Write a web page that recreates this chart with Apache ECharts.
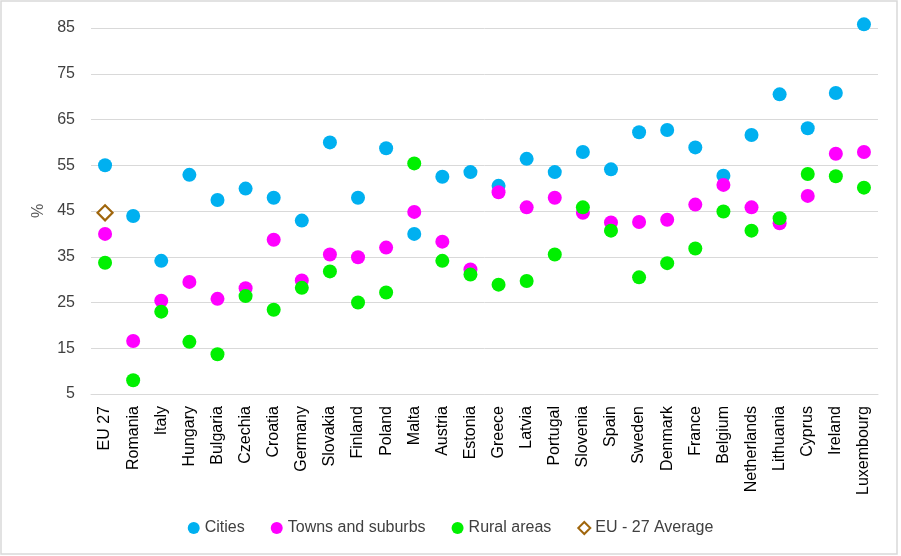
<!DOCTYPE html>
<html>
<head>
<meta charset="utf-8">
<script src="https://cdn.jsdelivr.net/npm/echarts@6/dist/echarts.min.js"></script>
<style>
html,body{margin:0;padding:0;background:#fff;}
#c{width:901px;height:556px;}
</style>
</head>
<body>
<div id="c"></div>
<script>
var categories = ["EU 27","Romania","Italy","Hungary","Bulgaria","Czechia","Croatia","Germany","Slovakia","Finland","Poland","Malta","Austria","Estonia","Greece","Latvia","Portugal","Slovenia","Spain","Sweden","Denmark","France","Belgium","Netherlands","Lithuania","Cyprus","Ireland","Luxembourg"];
var cities = [55.0,43.9,34.1,52.9,47.4,49.9,47.9,42.9,60.0,47.9,58.7,40.0,52.5,53.5,50.5,56.4,53.5,57.9,54.1,62.2,62.7,58.9,52.7,61.6,70.5,63.1,70.8,85.8];
var towns = [40.0,16.6,25.4,29.5,25.8,28.1,38.7,29.8,35.5,34.9,37.0,44.8,38.3,32.2,49.1,45.8,47.9,44.6,42.5,42.6,43.1,46.4,50.7,45.8,42.3,48.3,57.5,57.9];
var rural = [33.7,8.0,23.0,16.4,13.7,26.4,23.4,28.2,31.8,25.0,27.2,55.4,34.1,31.1,28.9,29.7,35.5,45.8,40.7,30.5,33.6,36.8,44.9,40.7,43.4,53.1,52.6,50.1];
var euAverage = [44.6,null,null,null,null,null,null,null,null,null,null,null,null,null,null,null,null,null,null,null,null,null,null,null,null,null,null,null];

var chart = echarts.init(document.getElementById('c'), null, {renderer:'canvas'});
var font = "'Liberation Sans', Arial, sans-serif";
chart.setOption({
  animation:false,
  backgroundColor:'#ffffff',
  textStyle:{fontFamily:font},
  graphic:[{type:'rect',shape:{x:1,y:1,width:896,height:553},style:{fill:'none',stroke:'#D9D9D9',lineWidth:1.5},silent:true}],
  grid:{left:91,right:23,top:28,bottom:162,containLabel:false},
  legend:{
    bottom:15,left:'center',itemGap:26,itemWidth:12,itemHeight:12,
    textStyle:{fontSize:16,color:'#404040',fontFamily:font},
    data:[
      {name:'Cities',icon:'circle'},
      {name:'Towns and suburbs',icon:'circle'},
      {name:'Rural areas',icon:'circle'},
      {name:'EU - 27 Average',icon:'diamond',itemStyle:{color:'#ffffff',borderColor:'#A0660C',borderWidth:2}}
    ]
  },
  xAxis:{
    type:'category',data:categories,boundaryGap:true,
    axisLine:{lineStyle:{color:'#D9D9D9',width:1}},
    axisTick:{show:false},
    axisLabel:{rotate:90,interval:0,fontSize:16,color:'#000000',margin:12,fontFamily:font},
    splitLine:{show:false}
  },
  yAxis:{
    type:'value',min:5,max:85,interval:10,
    name:'%',nameLocation:'middle',nameGap:44,nameRotate:90,
    nameTextStyle:{fontSize:16,color:'#595959',fontFamily:font},
    axisLine:{show:false},axisTick:{show:false},
    axisLabel:{fontSize:16,color:'#404040',margin:16,fontFamily:font},
    splitLine:{lineStyle:{color:'#D9D9D9',width:1}}
  },
  series:[
    {name:'Cities',type:'scatter',clip:false,data:cities,symbol:'circle',symbolSize:14,itemStyle:{color:'#00B0F0',opacity:1}},
    {name:'Towns and suburbs',type:'scatter',clip:false,data:towns,symbol:'circle',symbolSize:14,itemStyle:{color:'#FF00FF',opacity:1}},
    {name:'Rural areas',type:'scatter',clip:false,data:rural,symbol:'circle',symbolSize:14,itemStyle:{color:'#00F000',opacity:1}},
    {name:'EU - 27 Average',type:'scatter',clip:false,data:euAverage,symbol:'diamond',symbolSize:[15,15],itemStyle:{color:'#ffffff',borderColor:'#A0660C',borderWidth:2.2,opacity:1}}
  ]
});
</script>
</body>
</html>
